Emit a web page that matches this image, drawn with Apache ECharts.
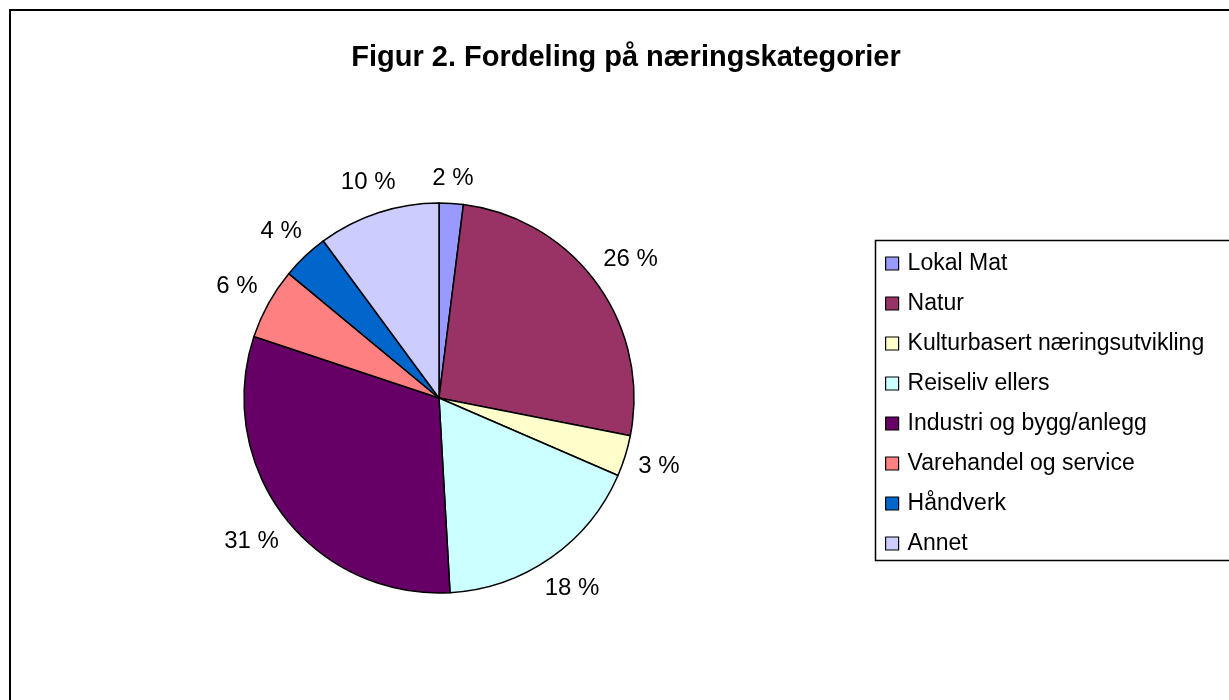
<!DOCTYPE html>
<html><head><meta charset="utf-8">
<script src="https://cdn.jsdelivr.net/npm/echarts@6/dist/echarts.min.js"></script>
<style>html,body{margin:0;padding:0;background:#fff}#c{width:1229px;height:700px}</style>
</head><body><div id="c"></div>
<script>
const titleText = 'Figur 2. Fordeling på næringskategorier';
const categories = ['Lokal Mat','Natur','Kulturbasert næringsutvikling','Reiseliv ellers','Industri og bygg/anlegg','Varehandel og service','Håndverk','Annet'];
const values = [2.0, 26.1, 3.4, 17.6, 31.0, 5.9, 3.9, 10.1];
const colors = ['#9999FF','#993366','#FFFFCC','#CCFFFF','#660066','#FF8080','#0066CC','#CCCCFF'];
const legendLabels = ['Lokal Mat','Natur','Kulturbasert næringsutvikling','Reiseliv ellers','Industri og bygg/anlegg','Varehandel og service','Håndverk','Annet'];

const CX = 439, CY = 398, R = 195, GAP = 12;
const font = '"Liberation Sans", Arial, sans-serif';
const chart = echarts.init(document.getElementById('c'), null, {renderer:'canvas'});
chart.setOption({
  animation:false,
  backgroundColor:'#fff',
  title:{text:titleText,left:621,textAlign:'center',top:38,textStyle:{fontFamily:font,fontSize:29,fontWeight:'bold',color:'#000'}},
  graphic:[
    {type:'rect',shape:{x:10,y:10,width:1240,height:700},style:{fill:'none',stroke:'#000',lineWidth:2},z:-1},
    {type:'rect',shape:{x:875.5,y:240.5,width:380,height:320},style:{fill:'#fff',stroke:'#000',lineWidth:1.5},z:-1}
  ],
  legend:{
    orient:'vertical',left:885,top:252,padding:0,itemGap:17,
    itemWidth:13,itemHeight:13,icon:'rect',
    itemStyle:{borderColor:'#000',borderWidth:1.2},
    textStyle:{fontFamily:font,fontSize:23,color:'#000',lineHeight:22,padding:[0,0,0,4]},
    data:legendLabels
  },
  series:[{
    type:'pie',center:[CX,CY],radius:R,startAngle:90,clockwise:true,
    avoidLabelOverlap:false,
    itemStyle:{borderColor:'#000',borderWidth:1.5},
    label:{show:true,position:'outside',fontFamily:font,fontSize:24,lineHeight:24,color:'#000',distanceToLabelLine:0,
      formatter:p=>Math.round(p.percent)+' %'},
    labelLine:{show:true,length:0,length2:0,lineStyle:{opacity:0,width:0}},
    labelLayout:function(p){
      const pts = p.labelLinePoints;
      if(!pts) return {};
      const dx = (pts[0][0]-CX)/R, dy = (pts[0][1]-CY)/R;
      const lr = p.labelRect;
      const d = R + GAP + Math.abs(dx)*lr.width/2 + Math.abs(dy)*lr.height/2;
      return {x:CX+dx*d, y:CY+dy*d, align:'center', verticalAlign:'middle'};
    },
    emphasis:{disabled:true},
    data:categories.map((c,i)=>({name:c,value:values[i],itemStyle:{color:colors[i]}}))
  }]
});
</script></body></html>
